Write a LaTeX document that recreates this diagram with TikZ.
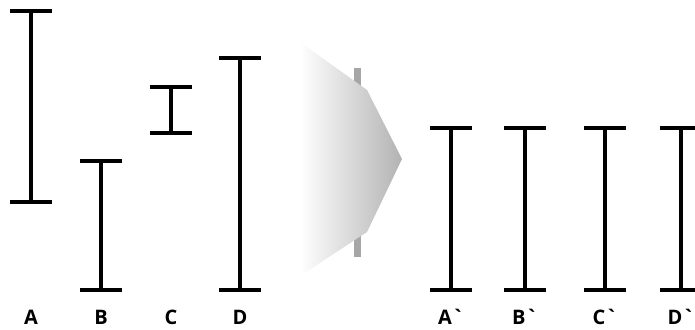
\documentclass[tikz,border=0pt]{standalone}
\usepackage{fontspec}
\newfontfamily\labelfont{Open Sans}
\begin{document}
\begin{tikzpicture}[
		x=1pt,y=-1pt,
		barline/.style={line width=3.2pt,black},
		guideline/.style={line width=7pt,black!35},
		arrowbody/.style={left color=white,right color=black!30,draw=none},
		labeltext/.style={font=\labelfont\bfseries\fontsize{20}{22}\selectfont,
			anchor=base,inner sep=0pt},
	]
	\useasboundingbox (0,0) rectangle (695,329);

	% ---------- before: unequal bars ----------
	\draw[barline] (10,11) -- (52,11) (31,11) -- (31,202) (10,202) -- (52,202);
	\draw[barline] (80,161) -- (122,161) (101,161) -- (101,290) (80,290) -- (122,290);
	\draw[barline] (150,87) -- (192,87) (171,87) -- (171,133) (150,133) -- (192,133);
	\draw[barline] (219,58) -- (261,58) (240,58) -- (240,290) (219,290) -- (261,290);

	\node[labeltext] (lblA) at (31,324) {A};
	\node[labeltext] (lblB) at (101,324) {B};
	\node[labeltext] (lblC) at (171,324) {C};
	\node[labeltext] (lblD) at (240,324) {D};

	% ---------- arrow ----------
	\draw[guideline] (357,68) -- (357,257);
	\shade[arrowbody] (300,42) -- (367,90) -- (402,159) -- (367,232) -- (300,276) -- cycle;
	\draw[white,line width=3pt] (300,42) -- (300,276);

	% ---------- after: equal bars ----------
	\draw[barline] (430,128) -- (472,128) (451,128) -- (451,290) (430,290) -- (472,290);
	\draw[barline] (504,128) -- (546,128) (525,128) -- (525,290) (504,290) -- (546,290);
	\draw[barline] (584,128) -- (626,128) (605,128) -- (605,290) (584,290) -- (626,290);
	\draw[barline] (660,128) -- (702,128) (681,128) -- (681,290) (660,290) -- (702,290);

	\node[labeltext] (lblAp) at (451,324) {A\textasciigrave};
	\node[labeltext] (lblBp) at (525,324) {B\textasciigrave};
	\node[labeltext] (lblCp) at (605,324) {C\textasciigrave};
	\node[labeltext] (lblDp) at (681,324) {D\textasciigrave};

\end{tikzpicture}
\end{document}
